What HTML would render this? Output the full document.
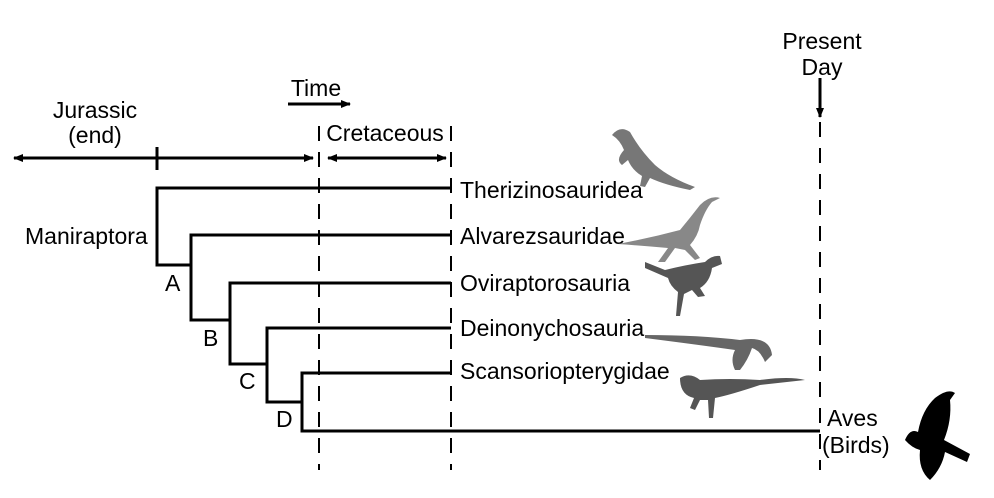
<!DOCTYPE html>
<html><head><meta charset="utf-8"><style>
html,body{margin:0;padding:0;background:#fff;}
svg{display:block;font-family:"Liberation Sans",Arial,sans-serif;}
</style></head><body>
<svg width="994" height="498" viewBox="0 0 994 498" xmlns="http://www.w3.org/2000/svg">
<defs>
<marker id="ah" markerWidth="10" markerHeight="8" refX="9" refY="4" orient="auto-start-reverse" markerUnits="userSpaceOnUse">
<path d="M0,0 L10,4 L0,8 z" fill="#000"/></marker>
</defs>
<g fill="#000" font-size="23">
<text x="95" y="118" text-anchor="middle">Jurassic</text>
<text x="95" y="143" text-anchor="middle">(end)</text>
<text x="316" y="96" text-anchor="middle">Time</text>
<text x="385" y="141" text-anchor="middle">Cretaceous</text>
<text x="822" y="49" text-anchor="middle">Present</text>
<text x="822" y="75" text-anchor="middle">Day</text>
<text x="25" y="244">Maniraptora</text>
<text x="165" y="291">A</text>
<text x="203" y="346">B</text>
<text x="239" y="389">C</text>
<text x="276" y="427">D</text>
<text x="460" y="198">Therizinosauridea</text>
<text x="460" y="244">Alvarezsauridae</text>
<text x="460" y="291">Oviraptorosauria</text>
<text x="460" y="336">Deinonychosauria</text>
<text x="460" y="379">Scansoriopterygidae</text>
<text x="827" y="426">Aves</text>
<text x="822" y="453">(Birds)</text>
</g>
<g stroke="#000" stroke-width="3" fill="none">
<line x1="288" y1="104" x2="350" y2="104" marker-end="url(#ah)"/>
<line x1="820" y1="78" x2="820" y2="117" marker-end="url(#ah)"/>
<line x1="14" y1="158" x2="313" y2="158" marker-start="url(#ah)" marker-end="url(#ah)"/>
<line x1="157" y1="147" x2="157" y2="170"/>
<line x1="328" y1="158" x2="446" y2="158" marker-start="url(#ah)" marker-end="url(#ah)"/>
<path d="M451,188 H157 V265 H191"/>
<path d="M451,235 H191 V320 H230"/>
<path d="M451,283 H230 V364 H267"/>
<path d="M451,328 H267 V402 H302"/>
<path d="M451,373 H302 V431 H820"/>
</g>
<g stroke="#000" stroke-width="2" stroke-dasharray="15,11">
<line x1="319" y1="126" x2="319" y2="470"/>
<line x1="451" y1="126" x2="451" y2="470"/>
<line x1="820" y1="122" x2="820" y2="470"/>
</g>
<g fill="#777">
<path d="M612,135 Q620,125 630,132 Q640,150 655,165 Q670,178 695,187 L690,190 Q665,185 650,178 L645,187 L640,186 L642,176 Q632,170 628,160 L622,165 Q615,160 624,150 Q620,140 612,135z"/>
<path d="M618,244 Q650,238 680,230 Q690,218 700,205 Q710,195 720,198 L712,202 Q705,210 700,225 Q698,236 690,245 L700,258 L695,260 L685,250 L675,248 L665,262 L658,262 L668,248 Q645,246 618,244z" fill="#888"/>
<path d="M645,262 L665,270 Q685,265 705,262 Q712,255 720,256 L722,264 L712,268 Q710,282 700,288 L705,296 L698,297 L692,290 L684,294 L680,316 L676,316 L678,292 Q670,286 668,278 L645,268z" fill="#555"/>
<path d="M645,335 Q700,335 740,340 Q770,335 772,355 L765,362 Q760,350 752,348 Q748,360 740,370 L735,370 Q730,360 735,350 Q700,345 645,338z" fill="#666"/>
<path d="M680,378 Q690,372 700,380 Q730,378 760,380 Q790,376 805,380 L760,385 Q730,395 715,398 L713,418 L709,418 L708,400 L700,400 L695,410 L690,408 L694,398 Q680,395 680,378z" fill="#555"/>
</g>
<path d="M905,440 Q910,428 918,432 Q922,410 935,398 Q948,388 955,393 L950,400 Q952,420 944,440 L970,454 L967,462 L945,452 Q942,468 930,480 Q918,470 920,450 Q912,448 905,440z" fill="#000"/>
</svg>
</body></html>
